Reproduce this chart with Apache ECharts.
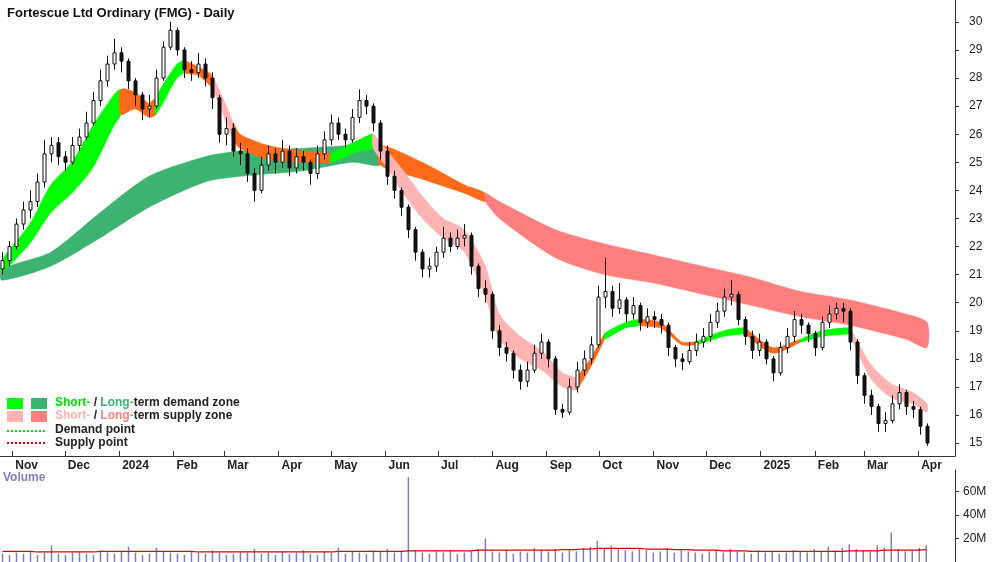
<!DOCTYPE html>
<html><head><meta charset="utf-8">
<script src="https://cdn.jsdelivr.net/npm/echarts@6/dist/echarts.min.js"></script>
<style>html,body{margin:0;padding:0;background:#fff}#c{width:1000px;height:562px}</style>
</head><body><div id="c"></div>
<script>
// one candle every 4 calendar days, starting here
const START = '2023-10-26';
const STEP_DAYS = 4;

// [open, close, low, high]
const candles = [
[21.2,21.5,21.0,21.8],[21.5,22.0,21.3,22.2],[22.0,22.8,21.9,23.0],[22.8,23.3,22.6,23.6],[23.3,23.6,23.0,24.0],
[23.6,24.3,23.4,24.6],[24.3,25.3,24.1,25.8],[25.3,25.6,25.0,25.9],[25.7,25.2,24.9,25.9],[25.2,25.0,24.7,25.4],
[25.0,25.6,24.9,25.9],[25.6,25.9,25.4,26.2],[25.9,26.4,25.8,26.8],[26.4,27.2,26.3,27.5],[27.2,27.9,27.0,28.3],
[27.9,28.5,27.7,28.8],[28.5,28.9,28.3,29.4],[28.9,28.6,28.2,29.1],[28.6,27.9,27.6,28.7],[27.9,27.4,27.0,28.0],
[27.4,26.9,26.5,27.5],[26.9,27.0,26.6,27.4],[27.0,28.0,26.9,28.3],[28.0,29.1,27.9,29.3],[29.1,29.7,29.0,30.0],
[29.7,29.0,28.8,29.8],[29.0,28.3,28.0,29.1],[28.3,28.2,27.9,28.6],[28.2,28.5,28.0,28.9],[28.5,28.0,27.7,28.7],
[28.0,27.3,26.9,28.2],[27.3,26.0,25.7,27.4],[26.0,26.2,25.6,26.6],[26.2,25.4,25.2,26.4],[25.4,25.3,24.9,25.7],
[25.3,24.6,24.3,25.5],[24.6,24.0,23.6,24.8],[24.0,24.9,23.9,25.2],[24.9,25.3,24.7,25.6],[25.3,25.0,24.6,25.5],
[25.0,25.4,24.8,25.8],[25.4,24.8,24.5,25.6],[24.8,25.2,24.6,25.5],[25.2,25.0,24.7,25.4],[25.0,24.6,24.2,25.1],
[24.6,25.3,24.4,25.6],[25.3,25.8,25.1,26.1],[25.8,26.4,25.6,26.7],[26.4,26.0,25.8,26.6],[26.0,25.8,25.5,26.2],
[25.8,26.6,25.7,26.9],[26.6,27.2,26.4,27.6],[27.2,27.0,26.7,27.4],[27.0,26.4,26.1,27.1],[26.4,25.4,25.1,26.5],
[25.4,24.5,24.2,25.6],[24.5,24.0,23.7,24.7],[24.0,23.4,23.1,24.1],[23.4,22.6,22.3,23.5],[22.6,21.8,21.5,22.7],
[21.8,21.2,20.9,21.9],[21.2,21.3,20.9,21.6],[21.3,21.8,21.1,22.0],[21.8,22.3,21.6,22.7],[22.3,22.0,21.8,22.5],
[22.0,22.3,21.9,22.6],[22.3,22.4,22.0,22.8],[22.4,21.3,21.0,22.5],[21.3,20.5,20.2,21.4],[20.5,20.3,20.0,20.8],
[20.3,19.0,18.7,20.4],[19.0,18.4,18.1,19.2],[18.4,18.2,17.9,18.6],[18.2,17.6,17.3,18.3],[17.6,17.2,16.9,17.8],
[17.2,17.6,17.0,17.9],[17.6,18.2,17.5,18.5],[18.2,18.6,18.0,18.9],[18.6,18.0,17.7,18.7],[18.0,16.2,16.0,18.1],
[16.2,16.1,15.9,16.4],[16.1,17.0,16.0,17.3],[17.0,17.6,16.8,17.9],[17.6,18.0,17.4,18.3],[18.0,18.5,17.8,18.8],
[18.5,20.2,18.4,20.6],[20.2,20.4,19.8,21.6],[20.4,19.8,19.5,20.6],[19.8,20.1,19.6,20.7],[20.1,19.6,19.3,20.2],
[19.6,19.9,19.4,20.2],[19.9,19.3,19.0,20.0],[19.3,19.5,19.1,19.8],[19.5,19.4,19.1,19.7],[19.4,19.2,18.9,19.6],
[19.2,18.4,18.1,19.3],[18.4,18.0,17.7,18.5],[18.0,17.9,17.6,18.2],[17.9,18.3,17.8,18.6],[18.3,18.6,18.1,18.9],
[18.6,18.8,18.4,19.1],[18.8,19.3,18.6,19.6],[19.3,19.7,19.1,20.0],[19.7,20.2,19.5,20.5],[20.2,20.3,19.9,20.8],
[20.3,19.4,19.2,20.4],[19.4,18.8,18.5,19.5],[18.8,18.3,18.0,19.0],[18.3,18.6,18.1,18.9],[18.6,18.0,17.8,18.7],
[18.0,17.5,17.2,18.1],[17.5,18.4,17.4,18.6],[18.4,18.8,18.2,19.1],[18.8,19.4,18.6,19.7],[19.4,19.2,18.9,19.6],
[19.2,18.9,18.6,19.3],[18.9,18.4,18.1,19.0],[18.4,19.3,18.3,19.5],[19.3,19.6,19.1,19.9],[19.6,19.8,19.4,20.0],
[19.8,19.7,19.3,20.0],[19.7,18.6,18.3,19.8],[18.6,17.4,17.1,18.7],[17.4,16.7,16.4,17.5],[16.7,16.3,16.0,16.9],
[16.3,15.7,15.4,16.4],[15.7,15.8,15.4,16.1],[15.8,16.4,15.7,16.7],[16.4,16.8,16.2,17.1],[16.8,16.3,16.0,16.9],
[16.3,16.2,15.9,16.5],[16.2,15.6,15.3,16.3],[15.6,15.0,14.9,15.7]
];

// volume in millions, one per candle
const volume = [
7,6,8,7,9,6,8,14,7,6,8,9,7,6,10,8,7,9,13,8,6,7,12,9,8,7,6,9,8,7,
10,8,6,7,9,8,11,7,8,6,9,7,8,10,7,6,9,8,12,7,9,8,7,10,9,11,8,9,72,10,
8,7,9,8,10,7,8,9,11,20,9,8,10,7,9,8,12,10,9,11,8,10,9,12,13,18,12,14,11,10,
9,11,10,8,9,12,8,10,9,8,7,9,10,8,11,9,8,7,10,8,9,7,8,10,9,8,11,9,13,10,
12,15,11,10,9,14,12,25,11,9,10,12,14
];
// volume average line
const volAvg = [
9,9,9,9,9,8.5,8.5,8.5,8.5,8.5,8.5,8.5,8.5,8.5,9,9,9,9,9,9,9,9,9,9,9,9,9,9,8.5,8.5,
8.5,8.5,8.5,8.5,8.5,8.5,8.5,8.5,8.5,8.5,8.5,8.5,8.5,8.5,8.5,8.5,8.5,8.5,9,9,9,9,9,9,9,9,9,9,9.5,9.5,
9.5,9.5,9.5,9.5,9.5,9.5,9.5,9.5,10,10,10,10,10,10,10,10,10,10,10,10,10.5,10.5,10.5,11,11,11.5,11.5,11.5,11.5,11.5,
11.5,11.5,11,11,11,11,10.5,10.5,10.5,10,10,10,10,9.5,9.5,9.5,9.5,9,9,9,9,9,9,9,9,9,9,9,9,9,
9,9.5,9.5,9.5,9.5,9.5,10,10,10,10,10,10,10.5
];

// bands: [candle index, upper, lower]
const shortBand = [
[0,21.5,21.1],[4,22.8,22.1],[7,24.2,23.2],[10,25.0,23.9],[13,26.3,24.8],[16,27.4,26.3],[17,27.6,26.7],
[19,27.5,26.9],[21,27.1,26.6],[22,27.3,26.7],[25,28.5,28.0],[26,28.6,28.2],[28,28.4,28.1],[30,28.1,27.7],
[31,27.6,27.1],[33,26.4,25.8],[34,26.0,25.5],[38,25.6,25.1],[43,25.4,25.0],[47,25.3,25.0],[51,25.8,25.4],
[53,26.0,25.5],[55,25.4,24.8],[57,24.8,24.0],[60,23.8,23.0],[63,23.0,22.3],[66,22.6,21.8],[69,21.3,20.2],
[71,19.6,18.7],[74,18.8,18.0],[77,18.3,17.6],[80,17.5,17.0],[82,17.3,16.9],[84,18.0,17.7],[86,18.9,18.7],
[89,19.3,19.1],[91,19.4,19.2],[94,19.3,19.1],[97,18.6,18.5],[99,18.6,18.5],[103,19.0,18.8],[106,19.1,18.9],
[110,18.4,18.2],[114,18.7,18.6],[117,19.0,18.8],[121,19.1,18.9],[124,17.8,17.3],[127,17.1,16.6],[130,16.8,16.4],[132,16.4,16.1]
];
const longBand = [
[0,21.2,20.8],[7,21.8,21.3],[14,23.2,22.3],[21,24.5,23.4],[29,25.2,24.3],[34,25.4,24.5],[43,25.5,24.7],
[50,25.6,25.0],[54,25.6,24.9],[60,25.0,24.4],[66,24.2,23.9],[69,23.9,23.6],[71,23.6,23.0],[79,22.6,21.6],
[86,22.1,21.0],[93,21.7,20.7],[100,21.3,20.3],[107,20.9,19.9],[114,20.4,19.5],[121,20.1,19.2],[129,19.6,18.7],[132,19.3,18.4]
];
// colour segments: [from index, to index, colour]
const shortSegs = [
[0,17,'#00ff00'],[17,22,'#ff6a1a'],[22,26,'#00ff00'],[26,30,'#ff6a1a'],[30,33,'#ffb3b3'],[33,47,'#ff6a1a'],
[47,53,'#00ff00'],[53,82,'#ffb3b3'],[82,86,'#ff6a1a'],[86,91,'#00ff00'],[91,99,'#ff6a1a'],[99,106,'#00ff00'],
[106,114,'#ff6a1a'],[114,121,'#00ff00'],[121,132,'#ffb3b3']
];
const longSegs = [[0,54,'#3cb371'],[54,69,'#ff6a1a'],[69,132,'#ff7f7f']];

const priceTicks = [15,16,17,18,19,20,21,22,23,24,25,26,27,28,29,30];
const volTicks = [20,40,60];

function dayStr(i) {
	let d = new Date(START + 'T00:00:00Z');
	d.setUTCDate(d.getUTCDate() + i * STEP_DAYS);
	return d.toISOString().slice(0, 10);
}
const dates = candles.map((_, i) => dayStr(i));

function bandSeries(band, segs, z) {
	return segs.map(([a, b, color]) => {
		let pts = band.filter(p => p[0] >= a && p[0] <= b);
		return {
			type: 'custom', xAxisIndex: 0, yAxisIndex: 0, z: z, silent: true,
			data: pts.map(p => [dates[p[0]], p[1], p[2]]),
			renderItem: (params, api) => {
				if (params.dataIndex !== 0) return;
				let up = pts.map(p => api.coord([dates[p[0]], p[1]]));
				let lo = pts.map(p => api.coord([dates[p[0]], p[2]])).reverse();
				return { type: 'polygon', shape: { points: up.concat(lo), smooth: 0.25 },
					style: { fill: color, stroke: color, lineWidth: 0.5 } };
			}
		};
	});
}

const font = 'Liberation Sans, Arial, sans-serif';
let chart = echarts.init(document.getElementById('c'));

chart.setOption({
	animation: false,
	title: { text: 'Fortescue Ltd Ordinary (FMG) - Daily', left: 2, top: 2,
		textStyle: { fontSize: 13, fontWeight: 'bold', fontFamily: font, color: '#111' } },
	grid: [
		{ left: 0, right: 45, top: 0, height: 456 },
		{ left: 0, right: 45, top: 470, bottom: 0 }
	],
	xAxis: [
		{ type: 'time', gridIndex: 0, min: '2023-10-25', max: '2025-04-22', splitNumber: 20,
			axisLine: { lineStyle: { color: '#333' } },
			axisTick: { length: -5, lineStyle: { color: '#333' } },
			splitLine: { show: false },
			axisLabel: { align: 'left', padding: [0, 0, 0, 3], margin: 4, fontSize: 12, fontWeight: 'bold',
				fontFamily: font, color: '#222', hideOverlap: false,
				formatter: { year: '{yyyy}', month: '{MMM}', day: '', hour: '', minute: '', second: '', millisecond: '' } } },
		{ type: 'time', gridIndex: 1, position: 'top', min: '2023-10-25', max: '2025-04-22',
			axisLine: { show: true, lineStyle: { color: '#333' } }, axisTick: { show: false }, axisLabel: { show: false }, splitLine: { show: false } }
	],
	yAxis: [
		{ type: 'value', gridIndex: 0, position: 'right', min: 14.54, max: 30.78,
			axisLine: { show: true, lineStyle: { color: '#333' } },
			axisTick: { show: true, customValues: priceTicks, length: 4 },
			axisLabel: { customValues: priceTicks, fontSize: 12, fontFamily: font, color: '#222', margin: 14 },
			splitLine: { show: false } },
		{ type: 'value', gridIndex: 1, position: 'right', min: 0, max: 78,
			axisLine: { show: true, lineStyle: { color: '#333' } },
			axisTick: { show: true, customValues: volTicks, length: 4 },
			axisLabel: { customValues: volTicks, formatter: v => v + 'M', fontSize: 12, fontFamily: font, color: '#222', margin: 8 },
			splitLine: { show: false } }
	],
	series: [
		...bandSeries(longBand, longSegs, 1),
		...bandSeries(shortBand, shortSegs, 2),
		{ type: 'custom', xAxisIndex: 0, yAxisIndex: 0, z: 5,
			data: candles.map((c, i) => [dates[i], c[0], c[1], c[2], c[3]]),
			renderItem: (params, api) => {
				let d = api.value(0), o = api.value(1), c = api.value(2);
				let pl = api.coord([d, api.value(3)]), ph = api.coord([d, api.value(4)]);
				let po = api.coord([d, o]), pc = api.coord([d, c]);
				let x = Math.round(pl[0]) + 0.5, w = 3;
				let top = Math.min(po[1], pc[1]), h = Math.max(1, Math.abs(po[1] - pc[1]));
				let up = c >= o;
				return { type: 'group', children: [
					{ type: 'line', shape: { x1: x, y1: ph[1], x2: x, y2: pl[1] }, style: { stroke: '#111', lineWidth: 1 } },
					{ type: 'rect', shape: { x: x - w / 2, y: top, width: w, height: h },
						style: { fill: up ? '#fff' : '#111', stroke: '#111', lineWidth: 1 } }
				] };
			} },
		{ type: 'bar', xAxisIndex: 1, yAxisIndex: 1, barWidth: 1.5, itemStyle: { color: '#7f7fc0' },
			data: volume.map((v, i) => [dates[i], v]) },
		{ type: 'line', xAxisIndex: 1, yAxisIndex: 1, symbol: 'none', lineStyle: { color: '#e00000', width: 1.2 },
			data: volAvg.map((v, i) => [dates[i], v]) }
	],
	graphic: [
		{ type: 'text', left: 3, top: 472, style: { text: 'Volume', fill: '#8080c0', font: 'bold 12px ' + font } },
		{ type: 'rect', shape: { x: 7, y: 398, width: 16, height: 11 }, style: { fill: '#00ff00' } },
		{ type: 'rect', shape: { x: 31, y: 398, width: 16, height: 11 }, style: { fill: '#3cb371' } },
		{ type: 'rect', shape: { x: 7, y: 411, width: 16, height: 11 }, style: { fill: '#ffb3b3' } },
		{ type: 'rect', shape: { x: 31, y: 411, width: 16, height: 11 }, style: { fill: '#ff7f7f' } },
		{ type: 'line', shape: { x1: 7, y1: 431, x2: 47, y2: 431 }, style: { stroke: '#00dd00', lineWidth: 2, lineDash: [2, 2] } },
		{ type: 'line', shape: { x1: 7, y1: 443, x2: 47, y2: 443 }, style: { stroke: '#ee0000', lineWidth: 2, lineDash: [2, 2] } },
		{ type: 'text', x: 55, y: 397, style: {
			text: '{g|Short-}{k| / }{d|Long-}{k|term demand zone}',
			rich: { g: { fill: '#00dd00', font: 'bold 12px ' + font }, d: { fill: '#3cb371', font: 'bold 12px ' + font },
				k: { fill: '#222', font: 'bold 12px ' + font } } } },
		{ type: 'text', x: 55, y: 410, style: {
			text: '{p|Short-}{k| / }{r|Long-}{k|term supply zone}',
			rich: { p: { fill: '#ffb3b3', font: 'bold 12px ' + font }, r: { fill: '#ff7f7f', font: 'bold 12px ' + font },
				k: { fill: '#222', font: 'bold 12px ' + font } } } },
		{ type: 'text', x: 55, y: 424, style: { text: 'Demand point', fill: '#222', font: 'bold 12px ' + font } },
		{ type: 'text', x: 55, y: 437, style: { text: 'Supply point', fill: '#222', font: 'bold 12px ' + font } }
	]
});
</script>
</body></html>
